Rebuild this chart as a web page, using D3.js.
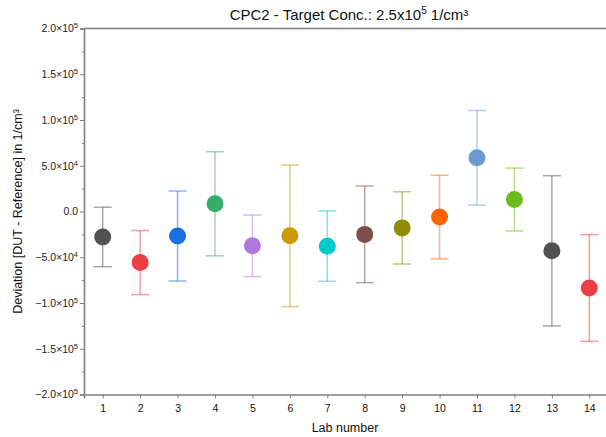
<!DOCTYPE html>
<html>
<head>
<meta charset="utf-8">
<script src="https://cdn.jsdelivr.net/npm/d3@7"></script>
<style>
  html, body { margin: 0; padding: 0; background: #fff; }
  svg { display: block; font-family: "Liberation Sans", Arial, sans-serif; }
</style>
</head>
<body>
<svg id="chart" width="606" height="437"></svg>
<script>
// Lab results: mean deviation and error-bar half width (1/cm³)
const labs = [1, 2, 3, 4, 5, 6, 7, 8, 9, 10, 11, 12, 13, 14];
const deviation = [-27800, -55800, -26800, 8500, -37500, -26600, -37900, -25000, -17900, -6000, 58700, 13100, -43000, -83600];
const errorHalf = [32500, 35000, 49200, 56900, 33700, 77400, 38400, 52800, 39500, 45600, 51700, 34400, 82100, 58300];
const colors = ["#515151", "#ef3e42", "#1a6fdf", "#37ad6b", "#b177de", "#cc9900", "#00cbcc", "#7d4e4e", "#8e8c00", "#fb6501", "#6a9ad0", "#6ebb1e", "#515151", "#ef3e42"];
const yTicks = [-200000, -150000, -100000, -50000, 0, 50000, 100000, 150000, 200000];
const yTickLabels = [["−2.0×10", "5"], ["−1.5×10", "5"], ["−1.0×10", "5"], ["−5.0×10", "4"], ["0.0", ""], ["5.0×10", "4"], ["1.0×10", "5"], ["1.5×10", "5"], ["2.0×10", "5"]];

const svg = d3.select("#chart");
const plotLeft = 84, plotTop = 28.5, plotBottom = 394.5, plotRight = 608;

const x = d3.scaleLinear().domain([0.5, 14.5]).range([plotLeft, plotRight]);
const y = d3.scaleLinear().domain([-200000, 200000]).range([plotBottom, plotTop]);

const axisColor = "#7f7f7f";

// Top frame line
svg.append("line")
  .attr("x1", plotLeft).attr("x2", 606).attr("y1", y(200000)).attr("y2", y(200000))
  .attr("stroke", axisColor).attr("stroke-width", 1.6);

// Y axis
const yAxis = svg.append("g").attr("transform", `translate(${plotLeft},0)`)
  .call(d3.axisLeft(y).tickValues(yTicks).tickSize(4).tickFormat(""));
yAxis.select(".domain").attr("stroke", axisColor).attr("stroke-width", 1.6);
yAxis.selectAll(".tick line").attr("stroke", axisColor).attr("stroke-width", 1);
// minor ticks
svg.append("g").attr("transform", `translate(${plotLeft},0)`)
  .call(d3.axisLeft(y).tickValues(d3.range(-175000, 200000, 50000)).tickSize(2).tickFormat(""))
  .call(g => g.select(".domain").remove())
  .selectAll(".tick line").attr("stroke", axisColor);

// Y tick labels with superscript exponents
const yLab = svg.append("g");
yTicks.forEach((v, i) => {
  const t = yLab.append("text")
    .attr("x", plotLeft - 6).attr("y", y(v) + 3.8)
    .attr("text-anchor", "end")
    .attr("font-size", 10.5).attr("fill", "#222");
  t.append("tspan").text(yTickLabels[i][0]);
  if (yTickLabels[i][1]) {
    t.append("tspan").attr("dy", -4).attr("font-size", 7.5).text(yTickLabels[i][1]);
  }
});

// X axis
const xAxis = svg.append("g").attr("transform", `translate(0,${plotBottom})`)
  .call(d3.axisBottom(x).tickValues(labs).tickSize(4).tickPadding(6).tickFormat(d3.format("d")));
xAxis.select(".domain").attr("stroke", axisColor).attr("stroke-width", 1.6);
xAxis.selectAll(".tick line").attr("stroke", axisColor).attr("stroke-width", 1);
xAxis.selectAll(".tick text").attr("font-size", 10.5).attr("fill", "#111")
  .attr("font-family", "Liberation Sans, Arial, sans-serif");

// Error bars
const bars = svg.append("g");
labs.forEach((lab, i) => {
  const g = bars.append("g")
    .attr("stroke", colors[i]).attr("stroke-opacity", 0.5).attr("stroke-width", 1.5);
  const cx = x(lab);
  const hi = y(deviation[i] + errorHalf[i]);
  const lo = y(deviation[i] - errorHalf[i]);
  g.append("line").attr("x1", cx).attr("x2", cx).attr("y1", hi).attr("y2", lo);
  g.append("line").attr("x1", cx - 9).attr("x2", cx + 9).attr("y1", hi).attr("y2", hi);
  g.append("line").attr("x1", cx - 9).attr("x2", cx + 9).attr("y1", lo).attr("y2", lo);
});

// Points
svg.append("g").selectAll("circle")
  .data(labs)
  .join("circle")
  .attr("cx", d => x(d))
  .attr("cy", (d, i) => y(deviation[i]))
  .attr("r", 8.5)
  .attr("fill", (d, i) => colors[i]);

// Title
const title = svg.append("text")
  .attr("x", 349).attr("y", 20)
  .attr("text-anchor", "middle").attr("font-size", 15).attr("fill", "#111");
title.append("tspan").text("CPC2 - Target Conc.: 2.5x10");
title.append("tspan").attr("dy", -6).attr("font-size", 10).text("5");
title.append("tspan").attr("dy", 6).text(" 1/cm³");

// Axis titles
svg.append("text")
  .attr("x", 345).attr("y", 432)
  .attr("text-anchor", "middle").attr("font-size", 12.5).attr("fill", "#111")
  .text("Lab number");

svg.append("text")
  .attr("transform", `translate(22,${y(0)}) rotate(-90)`)
  .attr("text-anchor", "middle").attr("font-size", 12.5).attr("fill", "#111")
  .text("Deviation [DUT - Reference] in 1/cm³");
</script>
</body>
</html>
